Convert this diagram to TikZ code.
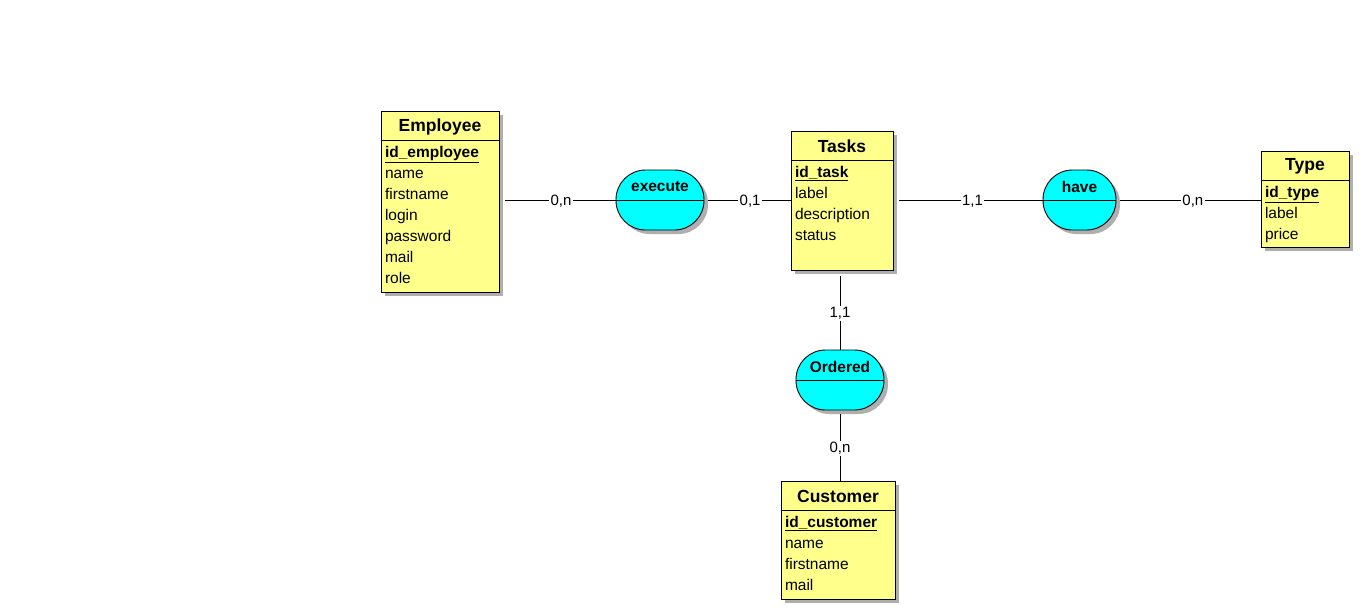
\documentclass[tikz,border=0pt]{standalone}
\usepackage{fontspec}
\setmainfont{Liberation Sans}
\usetikzlibrary{positioning,shadows,calc}
\definecolor{entyellow}{RGB}{255,255,140}
\definecolor{relcyan}{RGB}{0,255,255}
\definecolor{shade}{RGB}{175,175,175}

\begin{document}
\begin{tikzpicture}[x=1pt,y=-1pt,line width=0.9pt,
entity/.style={draw,fill=entyellow,inner sep=0,drop shadow={shadow xshift=4pt,shadow yshift=-4pt,fill=shade,opacity=1}},
relation/.style={draw,fill=relcyan,rounded corners=29.5pt,minimum height=60pt,inner sep=0,drop shadow={shadow xshift=4pt,shadow yshift=-4pt,fill=shade,opacity=1}},
title/.style={font=\fontsize{17.5}{20}\selectfont\bfseries,inner sep=0},
reltitle/.style={font=\fontsize{15.5}{18}\selectfont\bfseries,inner sep=0},
attrs/.style={font=\fontsize{15.5}{21}\selectfont,align=left,inner sep=0,anchor=north west},
link/.style={draw},
card/.style={fill=white,font=\fontsize{15}{18}\selectfont,inner sep=1.5pt,pos=0.53,yshift=-1pt}]
\fill[white] (0,0) rectangle (1360,610);
\useasboundingbox (0,0) rectangle (1360,610);
% entities
\node[entity,minimum width=118pt,minimum height=181pt](emp) at (440,201.5){};
\node[title](emp-t) at ([yshift=-16pt]emp.north){Employee};
\draw ([yshift=-30pt]emp.north west) -- ([yshift=-30pt]emp.north east);
\node[attrs](emp-a) at ([xshift=4pt,yshift=-35pt]emp.north west){\textbf{\underline{id\_employee}}\\name\\firstname\\login\\password\\mail\\role};
\node[entity,minimum width=102pt,minimum height=139pt](tasks) at (842,200.5){};
\node[title](tasks-t) at ([yshift=-16pt]tasks.north){Tasks};
\draw ([yshift=-30pt]tasks.north west) -- ([yshift=-30pt]tasks.north east);
\node[attrs](tasks-a) at ([xshift=4pt,yshift=-35pt]tasks.north west){\textbf{\underline{id\_task}}\\label\\description\\status};
\node[entity,minimum width=88pt,minimum height=96pt](type) at (1305,199){};
\node[title](type-t) at ([yshift=-16pt]type.north){Type};
\draw ([yshift=-30pt]type.north west) -- ([yshift=-30pt]type.north east);
\node[attrs](type-a) at ([xshift=4pt,yshift=-35pt]type.north west){\textbf{\underline{id\_type}}\\label\\price};
\node[entity,minimum width=114pt,minimum height=118pt](cust) at (838,540){};
\node[title](cust-t) at ([yshift=-16pt]cust.north){Customer};
\draw ([yshift=-30pt]cust.north west) -- ([yshift=-30pt]cust.north east);
\node[attrs](cust-a) at ([xshift=4pt,yshift=-35pt]cust.north west){\textbf{\underline{id\_customer}}\\name\\firstname\\mail};
% relations
\node[relation,minimum width=88pt](exe) at (660,200){};
\draw (exe.west) -- (exe.east);
\node[reltitle](exe-t) at ([yshift=13pt]exe.center){execute};
\node[relation,minimum width=73pt](have) at (1079.5,200){};
\draw (have.west) -- (have.east);
\node[reltitle](have-t) at ([yshift=13pt]have.center){have};
\node[relation,minimum width=88pt](ord) at (840,380){};
\draw (ord.west) -- (ord.east);
\node[reltitle](ord-t) at ([yshift=13pt]ord.center){Ordered};
% links
\draw[link,shorten <=6pt](emp.east |- exe.west) -- node[card]{0,n} (exe.west);
\draw[link,shorten <=4pt](exe.east) -- node[card]{0,1} (exe.east -| tasks.west);
\draw[link,shorten <=6pt](tasks.east |- have.west) -- node[card]{1,1} (have.west);
\draw[link,shorten <=4pt](have.east) -- node[card]{0,n} (have.east -| type.west);
\draw[link,shorten <=6pt](ord.north |- tasks.south) -- node[card]{1,1} (ord.north);
\draw[link,shorten <=4pt](ord.south) -- node[card]{0,n} (ord.south |- cust.north);
\end{tikzpicture}
\end{document}
